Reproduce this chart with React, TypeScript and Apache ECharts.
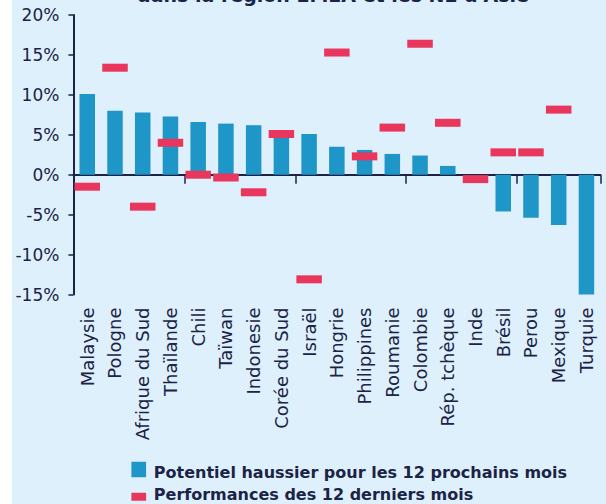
import React, { useEffect, useRef } from "react";
import * as echarts from "echarts";

const categories = [
  "Malaysie", "Pologne", "Afrique du Sud", "Thaïlande", "Chili", "Taïwan", "Indonesie",
  "Corée du Sud", "Israël", "Hongrie", "Philippines", "Roumanie", "Colombie",
  "Rép. tchèque", "Inde", "Brésil", "Perou", "Mexique", "Turquie",
];
const potentialValues = [10.1, 8.0, 7.8, 7.3, 6.6, 6.4, 6.2, 5.2, 5.1, 3.5, 3.1, 2.6, 2.4, 1.1, 0, -4.6, -5.4, -6.3, -15];
const performanceValues = [-1.5, 13.4, -4.0, 4.0, 0.0, -0.35, -2.2, 5.1, -13.1, 15.3, 2.3, 5.9, 16.4, 6.5, -0.55, 2.8, 2.8, 8.15, null];
const seriesNames = ["Potentiel haussier pour les 12 prochains mois", "Performances des 12 derniers mois"];
const titleText = "dans la région EMEA et les NE d'Asie";
const yMin = -15;
const yMax = 20;
const yInterval = 5;

const NAVY = "#1B2346";
const BLUE = "#1E96C8";
const RED = "#E9365C";
const FONT = "DejaVu Sans";

export default function App() {
  const ref = useRef<HTMLDivElement>(null);
  useEffect(() => {
    if (!ref.current) return;
    const chart = echarts.init(ref.current, null, { renderer: "svg" });
    chart.setOption({
      animation: false,
      backgroundColor: "#DEF0FC",
      grid: { left: 61.4, right: 5.7, top: 15, bottom: 209.5, containLabel: false },
      xAxis: [
        {
          type: "category",
          data: categories,
          position: "bottom",
          axisLine: { show: true, onZero: true, lineStyle: { color: NAVY, width: 2 } },
          axisTick: { show: true, length: 9, lineStyle: { color: NAVY, width: 1.5 } },
          axisLabel: { show: false },
          splitLine: { show: false },
        },
        {
          type: "category",
          data: categories,
          position: "bottom",
          axisLine: { show: false, onZero: false },
          axisTick: { show: false },
          axisLabel: {
            show: true,
            rotate: 90,
            interval: 0,
            margin: 13,
            fontSize: 18,
            fontFamily: FONT,
            color: NAVY,
          },
          splitLine: { show: false },
        },
      ],
      yAxis: {
        type: "value",
        min: yMin,
        max: yMax,
        interval: yInterval,
        axisLine: { show: true, lineStyle: { color: NAVY, width: 2 } },
        axisTick: { show: true, length: 5, lineStyle: { color: NAVY, width: 1.5 } },
        splitLine: { show: false },
        axisLabel: {
          formatter: "{value}%",
          fontSize: 17,
          fontFamily: FONT,
          color: NAVY,
          margin: 14,
        },
      },
      series: [
        {
          name: seriesNames[0],
          type: "bar",
          xAxisIndex: 0,
          data: potentialValues,
          barWidth: 15.5,
          itemStyle: { color: BLUE },
          z: 2,
        },
        {
          name: seriesNames[1],
          type: "scatter",
          xAxisIndex: 0,
          data: performanceValues,
          symbol: "rect",
          symbolSize: [25.5, 8],
          itemStyle: { color: RED, opacity: 1 },
          z: 3,
        },
      ],
      graphic: [
        {
          type: "text",
          x: 321,
          y: 4,
          style: {
            text: titleText,
            fill: NAVY,
            font: `bold 19px "${FONT}"`,
            textAlign: "center",
            textVerticalAlign: "bottom",
          },
        },
        {
          type: "rect",
          shape: { x: 119.4, y: 461.7, width: 14.7, height: 15.6 },
          style: { fill: BLUE },
        },
        {
          type: "text",
          x: 141.8,
          y: 472,
          style: {
            text: seriesNames[0],
            fill: NAVY,
            font: `bold 16px "${FONT}"`,
            textAlign: "left",
            textVerticalAlign: "middle",
          },
        },
        {
          type: "rect",
          shape: { x: 119.4, y: 492.7, width: 14.7, height: 8 },
          style: { fill: RED },
        },
        {
          type: "text",
          x: 141.8,
          y: 494.5,
          style: {
            text: seriesNames[1],
            fill: NAVY,
            font: `bold 16px "${FONT}"`,
            textAlign: "left",
            textVerticalAlign: "middle",
          },
        },
      ],
    });
    return () => chart.dispose();
  }, []);
  return (
    <div style={{ position: "absolute", left: 0, top: 0, width: 606, height: 504, background: "#ffffff", overflow: "hidden" }}>
      <div ref={ref} style={{ position: "absolute", left: 12, top: 0, width: 594, height: 504 }} />
    </div>
  );
}
